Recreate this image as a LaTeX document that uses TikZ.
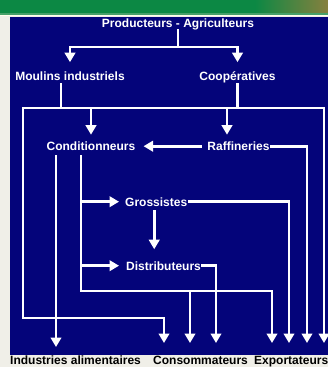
\documentclass[tikz,border=0pt]{standalone}
\usepackage{fontspec}
\setmainfont{Liberation Sans}
\usetikzlibrary{arrows.meta}
\definecolor{navy}{RGB}{4,4,122}
\definecolor{bandgreen}{RGB}{12,136,68}
\definecolor{bandolive}{RGB}{135,128,62}
\definecolor{bandline}{RGB}{70,160,105}
\definecolor{paper}{RGB}{240,239,232}
\begin{document}
\begin{tikzpicture}[x=1pt,y=-1pt,
  lbl/.style={font=\bfseries\fontsize{12}{14}\selectfont, text=white, inner sep=0pt,
    text height=8.6pt, text depth=0pt, anchor=base},
  bot/.style={lbl, text=black},
  ln/.style={draw=white, line width=2.8pt, line cap=rect},
  arr/.style={ln, -{Triangle[width=10.5pt,length=9.5pt]}}]
\useasboundingbox (0,0) rectangle (328,367);
\clip (0,0) rectangle (328,367);
% background
\fill[paper] (0,0) rectangle (328,367);
\fill[bandgreen] (0,0) rectangle (328,13.5);
\shade[left color=bandgreen, right color=bandolive] (255,0) rectangle (328,13.5);
\fill[bandline] (0,13) rectangle (328,14.5);
\fill[white!92!yellow] (0,14.5) rectangle (328,16);
\fill[navy] (10,17) rectangle (328,355);
% nodes
\node[lbl] (prod) at (178,27) {Producteurs - Agriculteurs};
\node[lbl] (moul) at (70,80) {Moulins industriels};
\node[lbl] (coop) at (237.5,80) {Coopératives};
\node[lbl] (cond) at (91,150.5) {Conditionneurs};
\node[lbl] (raff) at (238.5,150.5) {Raffineries};
\node[lbl, anchor=base west] (gros) at (125,206) {Grossistes};
\node[lbl, anchor=base west] (dist) at (126,270) {Distributeurs};
\node[bot, anchor=base west] (ind) at (10,364) {Industries alimentaires};
\node[bot, anchor=base west] (cons) at (153,364) {Consommateurs};
\node[bot, anchor=base west] (expo) at (254,364) {Exportateurs};
% junctions and arrow ends
\coordinate (j0) at (178,47);
\coordinate (hL) at (23,108);
\coordinate (hR) at (324,108);
\coordinate (jm) at (61,108);
\coordinate (jc) at (91,108);
\coordinate (jr) at (227,108);
\coordinate (c1) at (23,318);
\coordinate (c2) at (81,291);
\coordinate (eI) at (56,347);
\coordinate (e1) at (164,343);
\coordinate (e2) at (190,343);
\coordinate (e3) at (216,343);
\coordinate (e4) at (272,343);
\coordinate (e5) at (289,343);
\coordinate (e6) at (307,343);
\coordinate (e7) at (324,343);
% connectors
\draw[ln, shorten <=3pt] (prod.south) -- (j0);
\draw[arr, shorten >=9pt] (j0) -| (moul.north);
\draw[arr, shorten >=9pt] (j0) -| (coop.north);
\draw[ln, shorten <=4pt] (jm |- moul.south) -- (jm);
\draw[ln, shorten <=4pt] (coop.south) -- (coop.south |- hR);
\draw[ln] (hL) -- (hR);
\draw[arr, shorten >=7pt] (jc) -- (cond.north);
\draw[arr, shorten >=7pt] (jr) -- (jr |- raff.north);
\draw[arr, shorten <=7pt, shorten >=8pt] (raff.west) -- (cond.east);
\draw[arr] (hL) -- (c1) -| (e1);
\draw[arr] (hR) -- (e7);
\draw[arr, shorten <=2pt] (raff.east) -| (e6);
\draw[arr, shorten <=5.5pt] (eI |- cond.south) -- (eI);
\draw[ln, shorten <=5.5pt] (c2 |- cond.south) -- (c2);
\draw[arr] (c2) -| (e4);
\draw[arr] (e2 |- c2) -- (e2);
\draw[arr, shorten >=6pt] (c2 |- gros.west) -- (gros.west);
\draw[arr, shorten >=7pt] (c2 |- dist.west) -- (dist.west);
\draw[arr, shorten <=2pt] (gros.east) -| (e5);
\draw[arr, shorten <=1pt] (dist.east) -| (e3);
\draw[arr, shorten <=5pt, shorten >=12pt] ([xshift=-2pt]gros.south) -- ([xshift=-2pt]gros.south |- dist.north);
\end{tikzpicture}
\end{document}
